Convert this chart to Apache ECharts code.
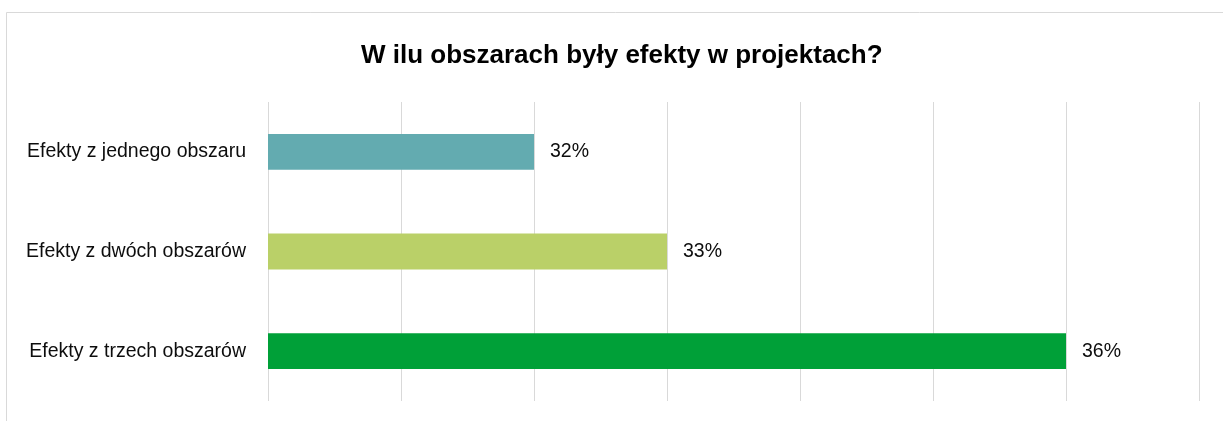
<!DOCTYPE html>
<html><head><meta charset="utf-8">
<script src="https://cdn.jsdelivr.net/npm/echarts@6/dist/echarts.min.js"></script>
<style>html,body{margin:0;padding:0;background:#fff}#c{width:1223px;height:421px}</style>
</head><body><div id="c"></div>
<script>
const categories = ['Efekty z trzech obszarów', 'Efekty z dwóch obszarów', 'Efekty z jednego obszaru'];
const values = [36, 33, 32];
const colors = ['#00a038', '#bad068', '#63abb0'];
const axisMin = 30, axisMax = 37, axisStep = 1;

const chart = echarts.init(document.getElementById('c'), null, {renderer: 'canvas'});
chart.setOption({
  animation: false,
  backgroundColor: '#fff',
  graphic: [{type: 'rect', shape: {x: 6.5, y: 12.5, width: 1240, height: 440}, style: {fill: 'none', stroke: '#d9d9d9', lineWidth: 1}, silent: true}],
  title: {text: 'W ilu obszarach były efekty w projektach?', left: 356, top: 38,
    textStyle: {fontFamily: 'Liberation Sans, Arial', fontWeight: 'bold', fontSize: 26, color: '#000'}},
  grid: {left: 268, right: 24, top: 102, bottom: 20, containLabel: false},
  xAxis: {type: 'value', min: axisMin, max: axisMax, interval: axisStep,
    axisLabel: {show: false}, axisLine: {show: false}, axisTick: {show: false},
    splitLine: {show: true, lineStyle: {color: '#d9d9d9', width: 1}}},
  yAxis: {type: 'category', data: categories, axisLine: {show: false}, axisTick: {show: false},
    axisLabel: {fontFamily: 'Liberation Sans, Arial', fontSize: 19.5, color: '#0d0d0d', margin: 22}},
  series: [{type: 'bar', barWidth: '36%',
    data: values.map((v, i) => ({value: v, itemStyle: {color: colors[i]}})),
    label: {show: true, position: 'right', distance: 16, formatter: p => p.value + '%',
      fontFamily: 'Liberation Sans, Arial', fontSize: 19.5, color: '#0d0d0d'}}]
});
</script></body></html>
